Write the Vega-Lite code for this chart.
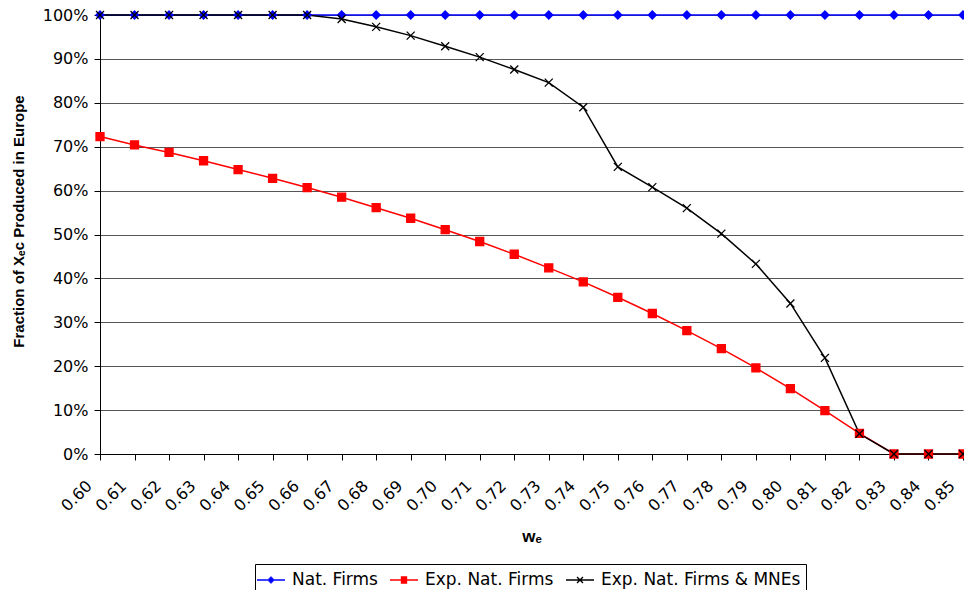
{
  "$schema": "https://vega.github.io/schema/vega-lite/v6.json",
  "width": 863,
  "height": 439,
  "autosize": "none",
  "padding": {"left": 100, "top": 15, "right": 1, "bottom": 136},
  "background": "white",
  "config": {
    "view": {"stroke": null},
    "axis": {"labelFont": "DejaVu Sans", "labelFontSize": 16, "labelColor": "black", "titleFont": "Liberation Sans", "titleColor": "black", "domainColor": "black", "tickColor": "black"},
    "legend": {"orient": "none", "legendX": 155, "legendY": 549, "direction": "horizontal", "title": null,
            "strokeColor": "black", "padding": 5, "labelFont": "DejaVu Sans", "labelFontSize": 17, "labelColor": "black", "labelLimit": 400,
            "symbolSize": 400, "symbolStrokeWidth": 1.4, "labelOffset": 10, "columnPadding": 9}
  },
  "data": {"values": [
    {"w":0.60,"series":"Nat. Firms","v":1},{"w":0.61,"series":"Nat. Firms","v":1},{"w":0.62,"series":"Nat. Firms","v":1},{"w":0.63,"series":"Nat. Firms","v":1},{"w":0.64,"series":"Nat. Firms","v":1},{"w":0.65,"series":"Nat. Firms","v":1},{"w":0.66,"series":"Nat. Firms","v":1},{"w":0.67,"series":"Nat. Firms","v":1},{"w":0.68,"series":"Nat. Firms","v":1},{"w":0.69,"series":"Nat. Firms","v":1},{"w":0.70,"series":"Nat. Firms","v":1},{"w":0.71,"series":"Nat. Firms","v":1},{"w":0.72,"series":"Nat. Firms","v":1},{"w":0.73,"series":"Nat. Firms","v":1},{"w":0.74,"series":"Nat. Firms","v":1},{"w":0.75,"series":"Nat. Firms","v":1},{"w":0.76,"series":"Nat. Firms","v":1},{"w":0.77,"series":"Nat. Firms","v":1},{"w":0.78,"series":"Nat. Firms","v":1},{"w":0.79,"series":"Nat. Firms","v":1},{"w":0.80,"series":"Nat. Firms","v":1},{"w":0.81,"series":"Nat. Firms","v":1},{"w":0.82,"series":"Nat. Firms","v":1},{"w":0.83,"series":"Nat. Firms","v":1},{"w":0.84,"series":"Nat. Firms","v":1},{"w":0.85,"series":"Nat. Firms","v":1},
    {"w":0.60,"series":"Exp. Nat. Firms","v":0.723},{"w":0.61,"series":"Exp. Nat. Firms","v":0.704},{"w":0.62,"series":"Exp. Nat. Firms","v":0.687},{"w":0.63,"series":"Exp. Nat. Firms","v":0.668},{"w":0.64,"series":"Exp. Nat. Firms","v":0.648},{"w":0.65,"series":"Exp. Nat. Firms","v":0.628},{"w":0.66,"series":"Exp. Nat. Firms","v":0.607},{"w":0.67,"series":"Exp. Nat. Firms","v":0.585},{"w":0.68,"series":"Exp. Nat. Firms","v":0.561},{"w":0.69,"series":"Exp. Nat. Firms","v":0.537},{"w":0.70,"series":"Exp. Nat. Firms","v":0.511},{"w":0.71,"series":"Exp. Nat. Firms","v":0.484},{"w":0.72,"series":"Exp. Nat. Firms","v":0.455},{"w":0.73,"series":"Exp. Nat. Firms","v":0.424},{"w":0.74,"series":"Exp. Nat. Firms","v":0.392},{"w":0.75,"series":"Exp. Nat. Firms","v":0.357},{"w":0.76,"series":"Exp. Nat. Firms","v":0.320},{"w":0.77,"series":"Exp. Nat. Firms","v":0.281},{"w":0.78,"series":"Exp. Nat. Firms","v":0.240},{"w":0.79,"series":"Exp. Nat. Firms","v":0.196},{"w":0.80,"series":"Exp. Nat. Firms","v":0.149},{"w":0.81,"series":"Exp. Nat. Firms","v":0.099},{"w":0.82,"series":"Exp. Nat. Firms","v":0.047},{"w":0.83,"series":"Exp. Nat. Firms","v":0},{"w":0.84,"series":"Exp. Nat. Firms","v":0},{"w":0.85,"series":"Exp. Nat. Firms","v":0},
    {"w":0.60,"series":"Exp. Nat. Firms & MNEs","v":1},{"w":0.61,"series":"Exp. Nat. Firms & MNEs","v":1},{"w":0.62,"series":"Exp. Nat. Firms & MNEs","v":1},{"w":0.63,"series":"Exp. Nat. Firms & MNEs","v":1},{"w":0.64,"series":"Exp. Nat. Firms & MNEs","v":1},{"w":0.65,"series":"Exp. Nat. Firms & MNEs","v":1},{"w":0.66,"series":"Exp. Nat. Firms & MNEs","v":1},{"w":0.67,"series":"Exp. Nat. Firms & MNEs","v":0.991},{"w":0.68,"series":"Exp. Nat. Firms & MNEs","v":0.973},{"w":0.69,"series":"Exp. Nat. Firms & MNEs","v":0.953},{"w":0.70,"series":"Exp. Nat. Firms & MNEs","v":0.929},{"w":0.71,"series":"Exp. Nat. Firms & MNEs","v":0.904},{"w":0.72,"series":"Exp. Nat. Firms & MNEs","v":0.876},{"w":0.73,"series":"Exp. Nat. Firms & MNEs","v":0.846},{"w":0.74,"series":"Exp. Nat. Firms & MNEs","v":0.790},{"w":0.75,"series":"Exp. Nat. Firms & MNEs","v":0.654},{"w":0.76,"series":"Exp. Nat. Firms & MNEs","v":0.608},{"w":0.77,"series":"Exp. Nat. Firms & MNEs","v":0.560},{"w":0.78,"series":"Exp. Nat. Firms & MNEs","v":0.502},{"w":0.79,"series":"Exp. Nat. Firms & MNEs","v":0.433},{"w":0.80,"series":"Exp. Nat. Firms & MNEs","v":0.343},{"w":0.81,"series":"Exp. Nat. Firms & MNEs","v":0.219},{"w":0.82,"series":"Exp. Nat. Firms & MNEs","v":0.046},{"w":0.83,"series":"Exp. Nat. Firms & MNEs","v":0},{"w":0.84,"series":"Exp. Nat. Firms & MNEs","v":0},{"w":0.85,"series":"Exp. Nat. Firms & MNEs","v":0}
  ]},
  "encoding": {
    "x": {"field": "w", "type": "quantitative", "scale": {"domain": [0.6, 0.85], "nice": false, "zero": false},
      "axis": {"title": "wₑ", "titleFont": "Liberation Sans", "titleFontSize": 17, "titleFontWeight": "bold", "titlePadding": 15,
        "values": [0.6,0.61,0.62,0.63,0.64,0.65,0.66,0.67,0.68,0.69,0.7,0.71,0.72,0.73,0.74,0.75,0.76,0.77,0.78,0.79,0.8,0.81,0.82,0.83,0.84,0.85],
        "format": ".2f", "labelAngle": -45, "labelAlign": "right", "labelBaseline": "middle", "labelPadding": 23, "labelOffset": -11, "tickSize": 6, "grid": false, "labelOverlap": false, "labelBound": false}},
    "y": {"field": "v", "type": "quantitative", "scale": {"domain": [0, 1], "nice": false},
      "axis": {"title": "Fraction of Xₑc Produced in Europe", "titleFontSize": 15, "titleFontWeight": "bold",
        "titleX": -81.5, "titleY": 206, "titleAlign": "center", "titleBaseline": "middle", "titleAngle": -90,
        "values": [0,0.1,0.2,0.3,0.4,0.5,0.6,0.7,0.8,0.9,1], "format": ".0%", "tickSize": 6, "labelPadding": 6,
        "grid": true, "gridColor": "#555555", "gridWidth": 1}}
  },
  "resolve": {"scale": {"shape": "independent"}, "legend": {"color": "independent", "shape": "independent"}},
  "layer": [
    {
      "mark": {"type": "line", "strokeWidth": 1.5},
      "encoding": {
        "color": {"field": "series", "type": "nominal", "scale": {"domain": ["Nat. Firms", "Exp. Nat. Firms", "Exp. Nat. Firms & MNEs"], "range": ["#0000ff", "#ff0000", "#000000"]}, "legend": null}
      }
    },
    {
      "mark": {"type": "point", "filled": true, "size": 64, "strokeWidth": 1.3, "opacity": 1},
      "encoding": {
        "color": {"field": "series", "type": "nominal", "legend": null},
        "stroke": {"field": "series", "type": "nominal", "scale": {"domain": ["Nat. Firms", "Exp. Nat. Firms", "Exp. Nat. Firms & MNEs"], "range": ["#0000ff", "#ff0000", "#000000"]}, "legend": null},
        "shape": {"field": "series", "type": "nominal", "scale": {"domain": ["Nat. Firms", "Exp. Nat. Firms", "Exp. Nat. Firms & MNEs"], "range": ["M0,-1L1,0L0,1L-1,0Z", "M-1,-1H1V1H-1Z", "M-1,-1L1,1M-1,1L1,-1"]}, "legend": null}
      }
    },
    {
      "transform": [{"filter": {"field": "series", "equal": "none"}}],
      "mark": {"type": "point", "filled": false, "strokeWidth": 1.4, "opacity": 1},
      "encoding": {
        "color": {"field": "series", "type": "nominal"},
        "shape": {"field": "series", "type": "nominal", "scale": {"domain": ["Nat. Firms", "Exp. Nat. Firms", "Exp. Nat. Firms & MNEs"], "range": [
          "M-1.4,0H1.4M-0.05,-0.3H0.05M-0.15,-0.2H0.15M-0.25,-0.1H0.25M-0.25,0.1H0.25M-0.15,0.2H0.15M-0.05,0.3H0.05",
          "M-1.4,0H1.4M-0.32,-0.3H0.32M-0.32,-0.2H0.32M-0.32,-0.1H0.32M-0.32,0.1H0.32M-0.32,0.2H0.32M-0.32,0.3H0.32",
          "M-1.4,0H1.4M-0.3,-0.3L0.3,0.3M-0.3,0.3L0.3,-0.3"]}}
      }
    }
  ]
}
